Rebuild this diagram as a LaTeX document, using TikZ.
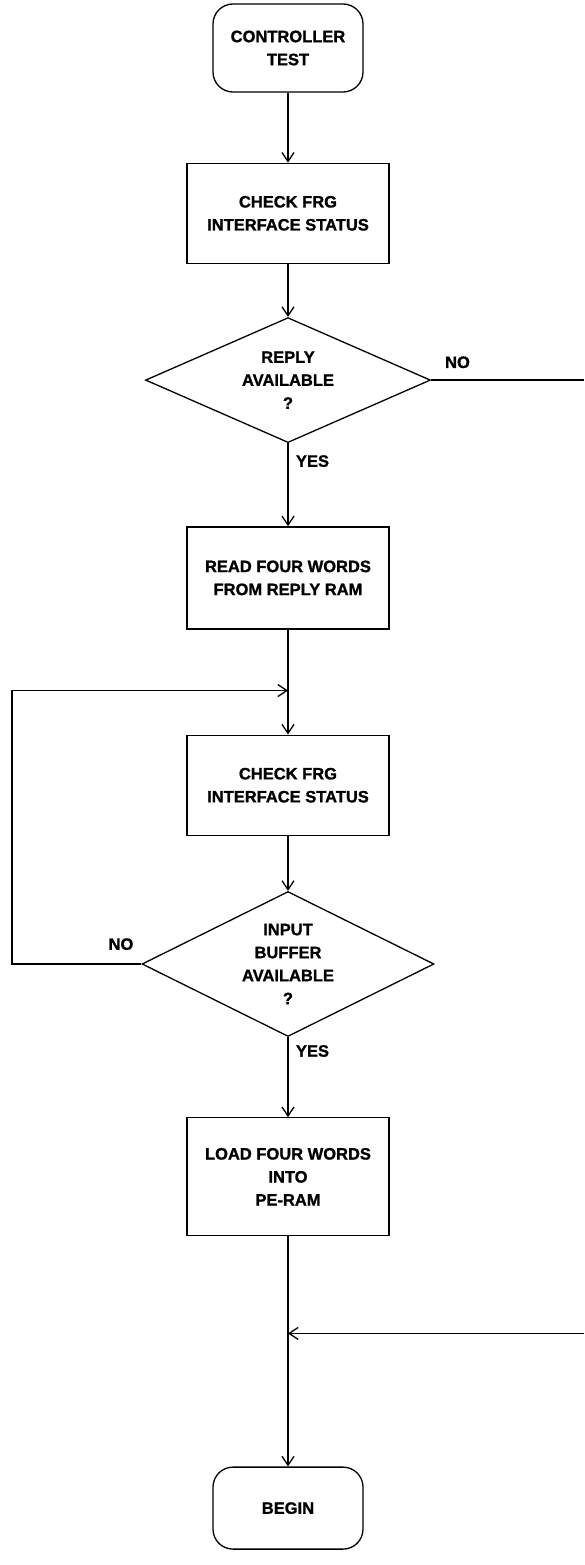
\documentclass[tikz,border=0pt]{standalone}
\usepackage{fontspec}
\setmainfont{Liberation Sans}[FakeBold=1.2]
\usetikzlibrary{shapes}
\usetikzlibrary{positioning}
\usetikzlibrary{arrows.meta}
\newcommand\lbl{\fontsize{16.5}{23}\selectfont\bfseries}

\begin{document}
\begin{tikzpicture}[->,x=1pt,y=-1pt,line width=1.3pt,
            >={Straight Barb[length=9pt,width=12pt]},
            term/.style = {draw,rounded corners=20pt,minimum width=150pt,
                minimum height=88pt,align=center,font=\lbl},
            box/.style = {draw,minimum width=202pt,minimum height=100pt,
                align=center,font=\lbl},
            dec/.style = {draw,diamond,aspect=2,inner sep=0pt,
                align=center,font=\lbl},
            tag/.style = {font=\lbl}]
            \useasboundingbox (0,0) rectangle (584,1565);
            \node[term] (start) at (288,48) {CONTROLLER\\TEST};
            \node[box,below=70pt of start] (chk1) {CHECK FRG\\INTERFACE STATUS};
            \node[dec,minimum width=285pt,minimum height=125pt,
                below=53pt of chk1] (reply) {REPLY\\AVAILABLE\\?};
            \node[box,minimum height=102pt,below=83pt of reply] (read)
                {READ FOUR WORDS\\FROM REPLY RAM};
            \coordinate[below=61pt of read] (join1);
            \node[box,below=105pt of read] (chk2) {CHECK FRG\\INTERFACE STATUS};
            \node[dec,minimum width=292pt,minimum height=145pt,
                below=55pt of chk2] (buffer) {INPUT\\BUFFER\\AVAILABLE\\?};
            \node[box,minimum height=118pt,below=80pt of buffer] (load)
                {LOAD FOUR WORDS\\INTO\\PE-RAM};
            \coordinate[below=97pt of load] (join2);
            \node[term,minimum height=82pt,below=230pt of load] (begin) {BEGIN};
            \coordinate (edgeL) at (12,0);
            \coordinate (edgeR) at (584,0);
            \node[tag,anchor=south west] (no1) at ([xshift=10pt,yshift=8pt]reply.east) {NO};
            \node[tag,anchor=north west] (yes1) at ([xshift=4pt,yshift=-8pt]reply.south) {YES};
            \node[tag,anchor=south east] (no2) at ([xshift=-4pt,yshift=10pt]buffer.west) {NO};
            \node[tag,anchor=north west] (yes2) at ([xshift=4pt,yshift=-4pt]buffer.south) {YES};
            \path
                (start) edge (chk1)
                (chk1) edge (reply)
                (reply) edge (read)
                (read) edge (chk2)
                (chk2) edge (buffer)
                (buffer) edge (load)
                (load) edge (begin)
                (join2 -| edgeR) edge (join2);
            \draw[-] (reply.east) -- (reply.east -| edgeR);
            \draw (buffer.west) -| (join1 -| edgeL) -- (join1);
        \end{tikzpicture}
\end{document}
